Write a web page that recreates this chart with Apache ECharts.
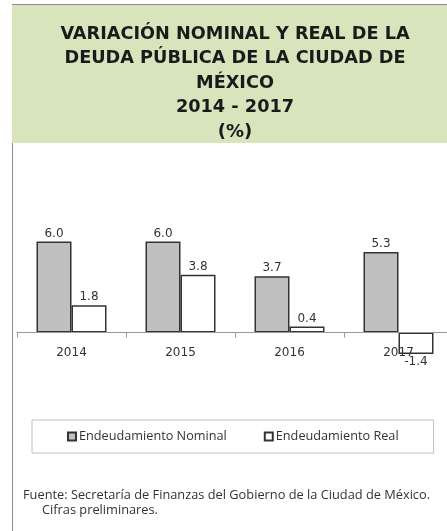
<!DOCTYPE html>
<html>
<head>
<meta charset="utf-8">
<script src="https://cdn.jsdelivr.net/npm/echarts@6/dist/echarts.min.js"></script>
<style>
  html, body { margin: 0; padding: 0; background: #fff; }
  #chart { width: 447px; height: 531px; }
</style>
</head>
<body>
<div id="chart"></div>
<script>
// datos
var years = ['2014', '2015', '2016', '2017']
var nominal = [6.0, 6.0, 3.7, 5.3]
var real = [1.8, 3.8, 0.4, -1.4]
var seriesNames = ['Endeudamiento Nominal', 'Endeudamiento Real']

var font = '"Open Sans", "Noto Sans", sans-serif'
var wideFont = '"DejaVu Sans", sans-serif'
var chart = echarts.init(document.getElementById('chart'))

// negativos con etiqueta abajo
function toData(arr) {
  return arr.map(function (v) {
    return v < 0 ? { value: v, label: { position: 'bottom' } } : v
  })
}

var labelCfg = {
  show: true,
  position: 'top',
  distance: 2,
  color: '#333',
  fontSize: 12,
  fontFamily: wideFont,
  formatter: function (p) { return p.value.toFixed(1) }
}

var option = {
  animation: false,
  backgroundColor: '#fff',
  title: {
    left: 230,
    top: 17,
    textAlign: 'center',
    text: '{b|VARIACIÓN NOMINAL Y REAL DE LA}\n{b|DEUDA PÚBLICA DE LA CIUDAD DE}\n{b|MÉXICO}\n{b|2014 - 2017}\n{r|(%)}',
    textStyle: {
      rich: {
        b: { fontSize: 17.7, fontWeight: 'bold', color: '#1a1a1a', fontFamily: wideFont, lineHeight: 24.5, align: 'center' },
        r: { fontSize: 18, color: '#1a1a1a', fontFamily: wideFont, lineHeight: 24.5, align: 'center' }
      }
    }
  },
  graphic: [
    { type: 'rect', z: -10, shape: { x: 12, y: 5, width: 435, height: 138 }, style: { fill: '#d8e4bc' } },
    { type: 'line', shape: { x1: 12, y1: 4.5, x2: 447, y2: 4.5 }, style: { stroke: '#8c8c8c', lineWidth: 1 } },
    { type: 'line', shape: { x1: 12.5, y1: 143, x2: 12.5, y2: 531 }, style: { stroke: '#8c8c8c', lineWidth: 1 } },
    {
      type: 'text', left: 23, top: 489,
      style: { text: 'Fuente: Secretaría de Finanzas del Gobierno de la Ciudad de México.', fill: '#333', font: '12.8px ' + font }
    },
    {
      type: 'text', left: 42, top: 504,
      style: { text: 'Cifras preliminares.', fill: '#333', font: '12.8px ' + font }
    }
  ],
  legend: {
    left: 32,
    top: 420,
    data: seriesNames,
    icon: 'rect',
    itemWidth: 8,
    itemHeight: 8,
    itemGap: 37,
    padding: [10, 35],
    borderColor: '#bfbfbf',
    borderWidth: 1,
    textStyle: { color: '#333', fontSize: 12.7, fontFamily: font, padding: [0, 0, 0, -2] }
  },
  grid: { left: 17, right: -6, top: 211, bottom: 168, outerBoundsMode: 'none', containLabel: false },
  xAxis: {
    type: 'category',
    data: years,
    z: 10,
    axisLine: { onZero: true, lineStyle: { color: '#999', width: 1 } },
    axisTick: { show: true, length: 5, lineStyle: { color: '#999' } },
    axisLabel: { color: '#333', fontSize: 12, fontFamily: wideFont, margin: -16 }
  },
  yAxis: {
    type: 'value',
    min: -2,
    max: 8,
    show: false,
    splitLine: { show: false }
  },
  series: [
    {
      name: seriesNames[0],
      type: 'bar',
      data: toData(nominal),
      barWidth: 35,
      barGap: '0%',
      itemStyle: { color: '#c0c0c0', borderColor: '#333', borderWidth: 1.5 },
      label: labelCfg
    },
    {
      name: seriesNames[1],
      type: 'bar',
      data: toData(real),
      barWidth: 35,
      barGap: '0%',
      itemStyle: { color: '#fff', borderColor: '#333', borderWidth: 1.5 },
      label: labelCfg
    }
  ]
}

chart.setOption(option)
</script>
</body>
</html>
